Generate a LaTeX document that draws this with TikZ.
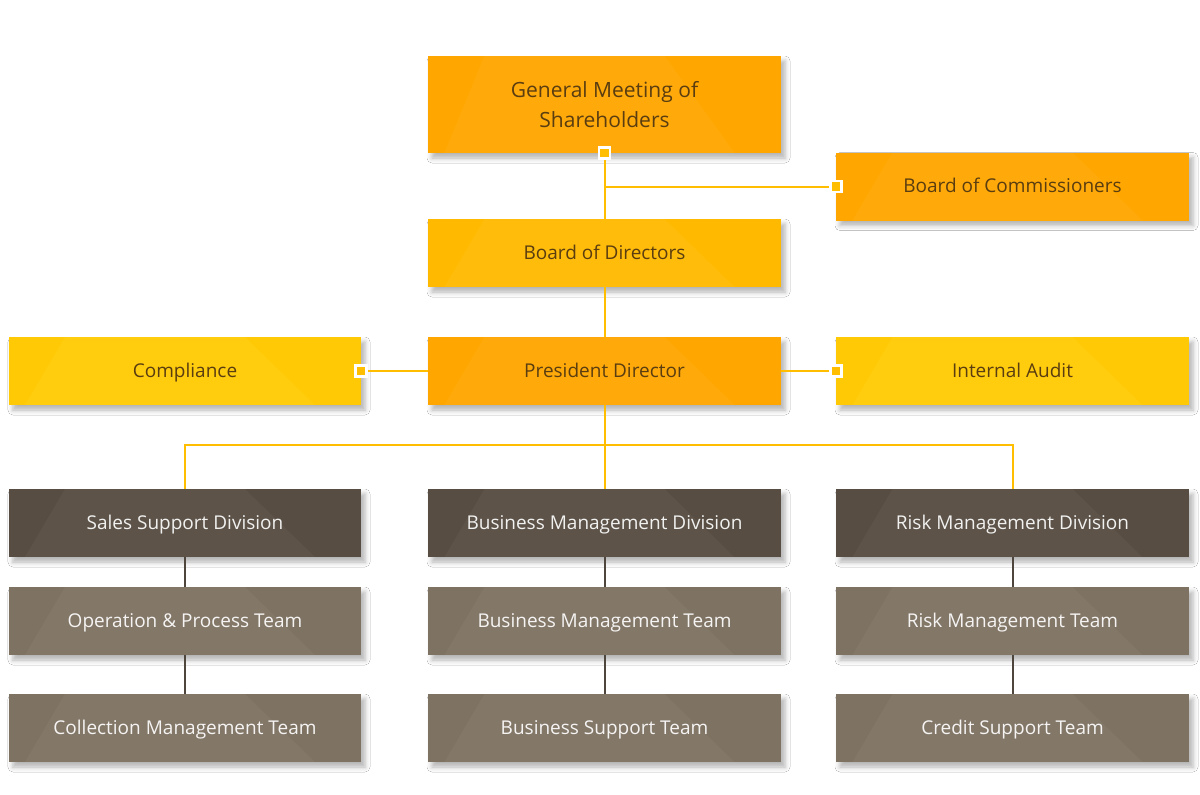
\documentclass[tikz,border=0pt]{standalone}
\usepackage{fontspec}
\setmainfont{Open Sans}
\usetikzlibrary{shadows.blur}
\definecolor{deep-orange}{HTML}{FFA700}
\definecolor{mid-orange}{HTML}{FFBA00}
\definecolor{light-yellow}{HTML}{FFCA05}
\definecolor{dark-brown}{HTML}{574D42}
\definecolor{light-brown}{HTML}{7E7262}
\definecolor{line-yellow}{HTML}{FFBE00}
\definecolor{line-brown}{HTML}{4E463D}
\definecolor{text-brown}{HTML}{5A3D10}
\tikzset{
  unit/.style={rectangle, minimum width=353, minimum height=68, inner sep=0pt,
    align=center, font=\fontsize{19}{30}\selectfont, text height=14pt, text depth=2pt,
    blur shadow={shadow xshift=4pt, shadow yshift=-5pt, shadow blur radius=5pt, shadow opacity=30},
    path picture={\fill[white, opacity=.04]
      ([xshift=-120pt]path picture bounding box.north) -- ([xshift=60pt]path picture bounding box.north)
      -- ([xshift=130pt]path picture bounding box.south) -- ([xshift=-160pt]path picture bounding box.south) -- cycle;}},
  topbox/.style={unit, fill=#1, text=text-brown},
  divbox/.style={unit, fill=dark-brown, text=white!92!dark-brown},
  teambox/.style={unit, fill=light-brown, text=white!92!light-brown},
  link/.style={line-yellow, line width=2pt},
  sublink/.style={line-brown, line width=2pt},
  marker/.style={rectangle, fill=line-yellow, draw=white, line width=2.5pt,
    minimum size=11pt, inner sep=0pt}
}
\begin{document}
\begin{tikzpicture}[x=1pt, y=-1pt]
  \useasboundingbox[fill=white] (0,0) rectangle (1200,795);

  % top of the chart
  \node[topbox=deep-orange, minimum height=97, font=\fontsize{21}{30}\selectfont, text height=, text depth=] (meeting) at (604.5,104.5) {General Meeting of\\Shareholders};
  \node[topbox=deep-orange] (commissioners) at (1012.5,186.5) {Board of Commissioners};
  \node[topbox=mid-orange] (directors) at (604.5,253) {Board of Directors};
  \node[topbox=light-yellow, minimum width=352] (compliance) at (185,371) {Compliance};
  \node[topbox=deep-orange] (president) at (604.5,371) {President Director};
  \node[topbox=light-yellow] (audit) at (1012.5,371) {Internal Audit};

  % divisions and teams
  \node[divbox, minimum width=352] (sales) at (185,523) {Sales Support Division};
  \node[divbox] (business) at (604.5,523) {Business Management Division};
  \node[divbox] (risk) at (1012.5,523) {Risk Management Division};
  \node[teambox, minimum width=352] (operation) at (185,621) {Operation \& Process Team};
  \node[teambox] (bizteam) at (604.5,621) {Business Management Team};
  \node[teambox] (riskteam) at (1012.5,621) {Risk Management Team};
  \node[teambox, minimum width=352] (collection) at (185,728) {Collection Management Team};
  \node[teambox] (bizsupport) at (604.5,728) {Business Support Team};
  \node[teambox] (credit) at (1012.5,728) {Credit Support Team};

  % connectors
  \coordinate (split) at (604.5,445);
  \draw[link] (meeting.south) -- (directors.north);
  \draw[link] (meeting.south |- commissioners.west) -- (commissioners.west);
  \draw[link] (directors.south) -- (president.north);
  \draw[link] (president.west) -- (compliance.east);
  \draw[link] (president.east) -- (audit.west);
  \draw[link] (president.south) -- (split);
  \draw[link] (sales.north) |- (split) -| (risk.north);
  \draw[link] (split) -- (business.north);

  \draw[sublink] (sales.south) -- (operation.north);
  \draw[sublink] (operation.south) -- (collection.north);
  \draw[sublink] (business.south) -- (bizteam.north);
  \draw[sublink] (bizteam.south) -- (bizsupport.north);
  \draw[sublink] (risk.south) -- (riskteam.north);
  \draw[sublink] (riskteam.south) -- (credit.north);

  \node[marker] (m1) at (meeting.south) {};
  \node[marker] (m2) at (commissioners.west) {};
  \node[marker] (m3) at (compliance.east) {};
  \node[marker] (m4) at (audit.west) {};
\end{tikzpicture}
\end{document}
